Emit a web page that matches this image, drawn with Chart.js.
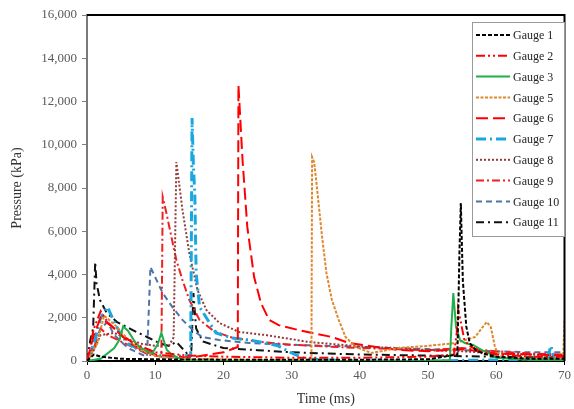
<!DOCTYPE html>
<html>
<head>
<meta charset="utf-8">
<script src="https://cdn.jsdelivr.net/npm/chart.js@4.4.1/dist/chart.umd.min.js"></script>
<style>
  body { margin: 0; background: #fff; }
  canvas { display: block; }
</style>
</head>
<body>
<canvas id="pressureChart" width="574" height="409"></canvas>
<script>
// Tick values
var timeTicks = [0, 10, 20, 30, 40, 50, 60, 70];
var pressureTicks = [0, 2000, 4000, 6000, 8000, 10000, 12000, 14000, 16000];

// Gauge readings, time in ms and pressure in kPa
var g1Time = [0, 1, 2, 5, 10, 20, 30, 40, 50, 54.3, 54.6, 54.8, 55.1, 55.6, 56.1, 57, 58, 60, 65, 70];
var g1Pressure = [0, 300, 200, 100, 80, 60, 60, 60, 80, 300, 5000, 7300, 3700, 1600, 830, 500, 350, 200, 100, 100];

var g2Time = [0, 1, 2, 3, 5, 7, 10, 15, 20, 30, 40, 50, 53.8, 54.2, 54.4, 54.8, 55.3, 56, 58, 60, 65, 70];
var g2Pressure = [0, 1500, 2300, 1800, 1200, 800, 400, 250, 200, 150, 150, 200, 300, 1300, 2400, 1800, 1000, 700, 400, 300, 200, 200];

var g3Time = [0, 2, 4, 4.8, 5.3, 6, 7, 7.7, 8.5, 9.6, 10.4, 10.9, 11.3, 11.7, 12.5, 14, 20, 30, 40, 50, 53.2, 53.4, 53.7, 54.1, 54.7, 55.4, 56.6, 57.8, 58.8, 60, 65, 70];
var g3Pressure = [0, 100, 600, 1000, 1600, 1400, 900, 650, 500, 370, 800, 1300, 900, 510, 280, 50, 0, 0, 0, 0, 50, 1500, 3140, 1570, 970, 830, 740, 510, 370, 150, 50, 50];

var g5Time = [0, 1.5, 2.5, 4, 6, 8, 10, 12, 15, 20, 25, 30, 32.9, 33.0, 33.3, 33.7, 34.4, 35.1, 35.9, 36.9, 37.9, 39.4, 41.7, 45.6, 50, 54, 56.9, 58, 58.6, 59.2, 59.8, 60.2, 61, 65, 69.8, 70];
var g5Pressure = [0, 800, 2100, 1700, 1000, 500, 250, 150, 100, 80, 50, 50, 50, 9430, 9200, 8050, 5920, 4070, 2820, 1900, 1110, 650, 370, 600, 700, 830, 1110, 1570, 1800, 1570, 650, 370, 150, 100, 100, 1900];

var g6Time = [0, 1, 2, 4, 6, 8, 10, 15, 20, 22.1, 22.2, 22.8, 23.5, 24.5, 25.5, 26.7, 28.1, 31, 35.9, 38.4, 45.6, 50, 55, 60, 65, 70];
var g6Pressure = [0, 1200, 2000, 1500, 900, 500, 300, 150, 400, 650, 12760, 9300, 6200, 3880, 2680, 1900, 1660, 1430, 1110, 830, 510, 450, 550, 350, 300, 250];

var g7Time = [0, 1, 2, 3, 4, 5, 6, 8, 10, 12, 15.2, 15.4, 15.6, 15.8, 16.0, 16.5, 17.5, 18.9, 21.3, 23.8, 26.2, 28, 30, 32, 35, 40, 50, 60, 67.5, 68, 68.5, 70];
var g7Pressure = [0, 800, 2000, 2500, 1800, 1200, 800, 500, 300, 200, 250, 11240, 9000, 7770, 4070, 2500, 2000, 1300, 1060, 970, 830, 700, 370, 100, 50, 0, 0, 50, 100, 700, 100, 50];

var g8Time = [0, 1, 2, 4, 6, 8, 10, 12, 12.7, 13.1, 14.0, 15.0, 16.2, 17.5, 19.4, 22.3, 26.2, 32.5, 40.8, 45.6, 50, 55, 60, 65, 70];
var g8Pressure = [0, 500, 1200, 1300, 1000, 800, 700, 700, 1100, 9200, 6980, 4990, 3280, 2360, 1760, 1340, 1200, 880, 650, 600, 500, 450, 350, 300, 250];

var g9Time = [0, 1, 2, 3, 5, 7, 9, 10.9, 11.1, 11.6, 12.2, 13.1, 14.0, 15.0, 16.5, 18.4, 20.9, 25, 30, 40, 50, 55, 60, 65, 70];
var g9Pressure = [0, 600, 1500, 1200, 900, 600, 300, 200, 7580, 6900, 6000, 4670, 3740, 2820, 1900, 1430, 1110, 900, 750, 600, 500, 600, 450, 350, 300];

var g10Time = [0, 1, 2, 3, 4, 6, 8, 8.8, 9.3, 10.2, 11.1, 12.5, 14, 15.5, 16.9, 19.4, 23.8, 31, 40.8, 45, 50, 55, 60, 65, 70];
var g10Pressure = [0, 800, 1500, 1800, 1200, 600, 300, 200, 4350, 3740, 3140, 2500, 1900, 1430, 1110, 970, 830, 740, 650, 600, 550, 500, 450, 400, 400];

var g11Time = [0, 0.5, 0.9, 1.2, 1.4, 1.9, 2.9, 4.4, 6.7, 8.8, 10.6, 12, 13.1, 14.6, 15.3, 15.6, 16, 17, 20, 25, 30, 40, 50, 60, 70];
var g11Pressure = [0, 1000, 1500, 4580, 3600, 2820, 2220, 1800, 1430, 1110, 830, 700, 880, 370, 500, 3140, 1500, 900, 600, 500, 400, 300, 250, 200, 150];

var gaugeNames = ['Gauge 1', 'Gauge 2', 'Gauge 3', 'Gauge 5', 'Gauge 6', 'Gauge 7', 'Gauge 8', 'Gauge 9', 'Gauge 10', 'Gauge 11'];

function points(times, values) {
    var out = [];
    for (var i = 0; i < times.length; i++) {
        out.push({ x: times[i], y: values[i] });
    }
    return out;
}

// line style for each gauge, same order as the names
var styles = [
    { color: '#000000', dash: [4, 2], width: 2 },
    { color: '#ff0000', dash: [9, 3, 2, 3, 2, 3], width: 2 },
    { color: '#1fb04c', dash: [], width: 2 },
    { color: '#e0872c', dash: [3, 1.5], width: 2 },
    { color: '#ff0000', dash: [12, 5], width: 2 },
    { color: '#1aa7e0', dash: [10, 4, 2, 4], width: 3 },
    { color: '#93393a', dash: [2, 2], width: 2 },
    { color: '#ee2020', dash: [8, 3, 2, 3], width: 2 },
    { color: '#4d74a8', dash: [6, 4], width: 2 },
    { color: '#111111', dash: [8, 4, 2, 4], width: 2 }
];

var series = [
    points(g1Time, g1Pressure), points(g2Time, g2Pressure), points(g3Time, g3Pressure),
    points(g5Time, g5Pressure), points(g6Time, g6Pressure), points(g7Time, g7Pressure),
    points(g8Time, g8Pressure), points(g9Time, g9Pressure), points(g10Time, g10Pressure),
    points(g11Time, g11Pressure)
];

var datasets = [];
for (var i = 0; i < gaugeNames.length; i++) {
    datasets.push({
        label: gaugeNames[i],
        data: series[i],
        borderColor: styles[i].color,
        backgroundColor: styles[i].color,
        borderDash: styles[i].dash,
        borderWidth: styles[i].width,
        pointRadius: 0,
        tension: 0,
        fill: false
    });
}

// box round the plot area, top and right sides
var frame = {
    id: 'frame',
    afterDatasetsDraw: function(chart) {
        var a = chart.chartArea, ctx = chart.ctx;
        ctx.save();
        ctx.strokeStyle = '#000';
        ctx.lineWidth = 2;
        ctx.setLineDash([]);
        ctx.beginPath();
        ctx.moveTo(a.left, a.top);
        ctx.lineTo(a.right, a.top);
        ctx.lineTo(a.right, a.bottom);
        ctx.stroke();
        ctx.restore();
    }
};

// legend inside the plot, upper right
var insideLegend = {
    id: 'insideLegend',
    afterDraw: function(chart) {
        var ctx = chart.ctx;
        var x0 = 472, y0 = 22, w = 92, h = 214;
        ctx.save();
        ctx.fillStyle = '#fff';
        ctx.fillRect(x0, y0, w, h);
        ctx.strokeStyle = '#9a9a9a';
        ctx.lineWidth = 1;
        ctx.setLineDash([]);
        ctx.strokeRect(x0 + 0.5, y0 + 0.5, w, h);
        ctx.font = '12px "Liberation Serif"';
        ctx.textBaseline = 'middle';
        ctx.fillStyle = '#222';
        chart.data.datasets.forEach(function(ds, i) {
            var y = 35 + i * 20.8;
            ctx.strokeStyle = ds.borderColor;
            ctx.lineWidth = ds.borderWidth;
            ctx.setLineDash(ds.borderDash);
            ctx.beginPath();
            ctx.moveTo(476, y);
            ctx.lineTo(510, y);
            ctx.stroke();
            ctx.fillText(ds.label, 513, y + 1);
        });
        ctx.restore();
    }
};

var ctx = document.getElementById('pressureChart').getContext('2d');
var pressureChart = new Chart(ctx, {
    type: 'line',
    data: { datasets: datasets },
    options: {
        responsive: false,
        animation: false,
        layout: { padding: { top: 15, right: 7, left: 0, bottom: 0 } },
        plugins: {
            legend: { display: false },
            tooltip: { enabled: false }
        },
        scales: {
            x: {
                type: 'linear',
                min: 0,
                max: 70,
                afterBuildTicks: function(scale) {
                    scale.ticks = timeTicks.map(function(v) { return { value: v }; });
                },
                afterFit: function(scale) { scale.height = 48; },
                ticks: {
                    color: '#595959',
                    font: { family: 'Liberation Serif', size: 13 },
                    padding: 3,
                    maxRotation: 0
                },
                grid: { display: true, drawOnChartArea: false, drawTicks: true, tickLength: 4, color: '#000' },
                border: { display: true, color: '#000', width: 2 },
                title: {
                    display: true,
                    text: 'Time (ms)',
                    color: '#333',
                    font: { family: 'Liberation Serif', size: 14 },
                    padding: { top: 0, bottom: 1 }
                }
            },
            y: {
                min: 0,
                max: 16000,
                afterBuildTicks: function(scale) {
                    scale.ticks = pressureTicks.map(function(v) { return { value: v }; });
                },
                afterFit: function(scale) { scale.width = 87; },
                ticks: {
                    color: '#595959',
                    font: { family: 'Liberation Serif', size: 13 },
                    padding: 5,
                    callback: function(v) { return v.toLocaleString('en-US'); }
                },
                grid: { display: true, drawOnChartArea: false, drawTicks: true, tickLength: 5, color: '#808080' },
                border: { display: true, color: '#7a7a7a', width: 2 },
                title: {
                    display: true,
                    text: 'Pressure (kPa)',
                    color: '#333',
                    font: { family: 'Liberation Serif', size: 14 },
                    padding: { top: 9, bottom: 0 }
                }
            }
        }
    },
    plugins: [frame, insideLegend]
});
</script>
</body>
</html>
